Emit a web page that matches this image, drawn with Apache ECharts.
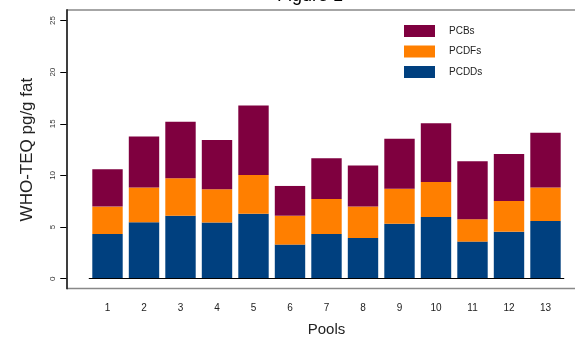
<!DOCTYPE html>
<html>
<head>
<meta charset="utf-8">
<script src="https://cdn.jsdelivr.net/npm/echarts@6/dist/echarts.min.js"></script>
<style>html,body{margin:0;padding:0;background:#fff}#c{width:575px;height:337px}</style>
</head>
<body>
<div id="c"></div>
<script>
const categories = ['1','2','3','4','5','6','7','8','9','10','11','12','13'];
const pcdds = [4.33, 5.46, 6.10, 5.43, 6.30, 3.30, 4.33, 3.94, 5.33, 5.98, 3.59, 4.55, 5.59];
const pcdfs = [2.65, 3.36, 3.63, 3.23, 3.75, 2.80, 3.39, 3.04, 3.39, 3.39, 2.17, 2.98, 3.23];
const pcbs  = [3.62, 4.94, 5.47, 4.78, 6.71, 2.88, 3.95, 3.97, 4.82, 5.69, 5.62, 4.55, 5.30];
const yTicks = [0, 5, 10, 15, 20, 25];

const FONT = 'Liberation Sans';
const chart = echarts.init(document.getElementById('c'), null, {renderer: 'canvas'});
chart.setOption({
  animation: false,
  title: {
    text: 'Figure 1', left: 310, top: -13, textAlign: 'center', padding: 0,
    textStyle: {fontFamily: FONT, fontSize: 18, fontWeight: 'normal', color: '#000'}
  },
  legend: {
    data: ['PCBs', 'PCDFs', 'PCDDs'], orient: 'vertical', left: 404, top: 25, padding: 0,
    itemWidth: 31, itemHeight: 12, itemGap: 8.5, icon: 'rect',
    textStyle: {fontFamily: FONT, fontSize: 10, color: '#222', padding: [0, 0, 0, 9]}
  },
  grid: {left: 89.25, right: 11.25, top: 20.5, bottom: 58.3, containLabel: false, outerBoundsMode: 'none'},
  graphic: [
    {type: 'line', silent: true, z: 0, shape: {x1: 67, y1: 10, x2: 575, y2: 10},
     style: {stroke: '#888', lineWidth: 1.5}},
    {type: 'line', silent: true, z: 0, shape: {x1: 67, y1: 288.5, x2: 575, y2: 288.5},
     style: {stroke: '#888', lineWidth: 1.5}},
    {type: 'line', silent: true, z: 1, shape: {x1: 67, y1: 9.3, x2: 67, y2: 289.2},
     style: {stroke: '#2a2a2a', lineWidth: 1.8}}
  ],
  xAxis: {
    type: 'category', data: categories,
    name: 'Pools', nameLocation: 'middle', nameGap: 44,
    nameTextStyle: {fontFamily: FONT, fontSize: 15, color: '#222'},
    axisLine: {show: true, lineStyle: {color: '#000', width: 1.2}},
    axisTick: {show: false},
    axisLabel: {fontFamily: FONT, fontSize: 10, color: '#222', margin: 25},
    z: 5
  },
  yAxis: {
    type: 'value', min: 0, max: 25, interval: 5, offset: 22,
    name: 'WHO-TEQ pg/g fat', nameLocation: 'middle', nameGap: 31,
    nameTextStyle: {fontFamily: FONT, fontSize: 17, color: '#222'},
    axisLine: {show: false},
    axisTick: {show: true, length: 7, lineStyle: {color: '#000', width: 1}},
    axisLabel: {fontFamily: FONT, fontSize: 8, color: '#333', rotate: 90, margin: 10,
      formatter: v => yTicks.includes(v) ? String(v) : ''},
    splitLine: {show: false}
  },
  series: [
    {name: 'PCDDs', type: 'bar', stack: 't', data: pcdds, barCategoryGap: '16.7%',
     itemStyle: {color: '#00407f'}},
    {name: 'PCDFs', type: 'bar', stack: 't', data: pcdfs, barCategoryGap: '16.7%',
     itemStyle: {color: '#ff7f00'}},
    {name: 'PCBs', type: 'bar', stack: 't', data: pcbs, barCategoryGap: '16.7%',
     itemStyle: {color: '#7f003f'}}
  ]
});
</script>
</body>
</html>
